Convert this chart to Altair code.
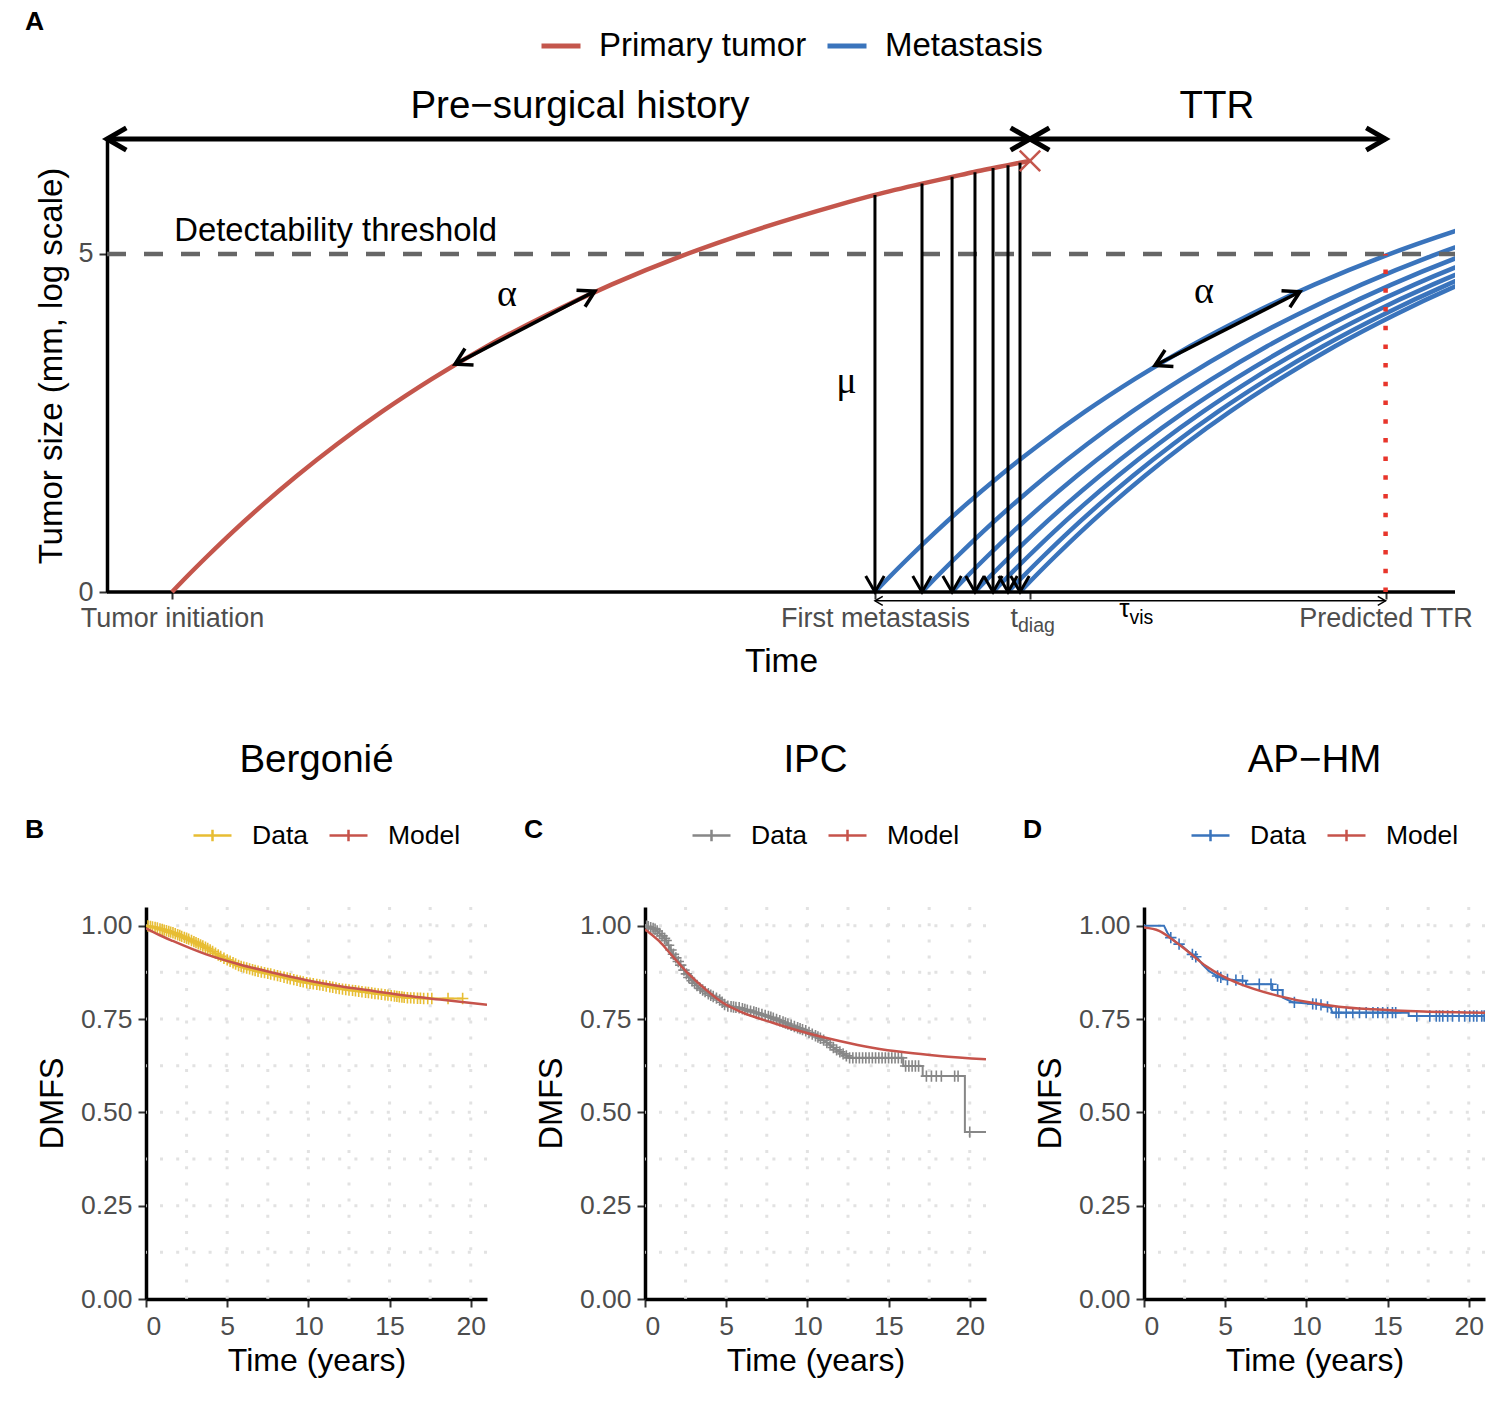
import math
import altair as alt
import numpy as np
import pandas as pd

FONT = "Liberation Sans"
SERIF = "Liberation Serif"
LABEL_GRAY = "#4D4D4D"
PRIMARY_RED = "#C4564C"
MET_BLUE = "#3A74BC"
TTR_RED = "#E8352B"
THRESH_GRAY = "#666666"
GRID_GRAY = "#E2E2E2"
MODEL_RED = "#C6534B"

# ---------------- Panel A (schematic) data ----------------
growth_age = [0.0, 1.11, 2.60, 4.45, 6.68, 9.27, 12.24, 15.58, 19.29, 23.37, 27.82,
              32.64, 37.83, 43.40, 49.33, 52.15, 55.64, 57.86, 59.50, 60.76, 62.02,
              62.91, 63.65]
growth_size = [0.0, 0.229, 0.525, 0.879, 1.281, 1.720, 2.186, 2.667, 3.152, 3.635,
               4.102, 4.550, 4.972, 5.361, 5.719, 5.873, 6.040, 6.139, 6.213, 6.263,
               6.314, 6.349, 6.377]
primary_onset = 4.82
met_onsets = [56.97, 60.46, 62.69, 64.39, 65.73, 66.84, 67.73]
met_arrow_tops = [5.87, 6.04, 6.14, 6.21, 6.27, 6.31, 6.35]
t_diag = 68.47
predicted_ttr = 94.85
threshold = 5.0
timeline_y = 6.70
tau_arrow_y = -0.13
alpha_primary = (25.82, 3.37, 36.20, 4.45)
alpha_met = (77.74, 3.35, 88.50, 4.44)
series_names = ["Primary tumor", "Metastasis"]

# ---------------- Panels B-D (survival) data ----------------
grid_x = [2.5, 5, 7.5, 10, 12.5, 15, 17.5, 20]
grid_y = [0.125, 0.25, 0.375, 0.5, 0.625, 0.75, 0.875, 1.0]

berg_t = [0, 0.6, 1.65, 2.68, 3.71, 4.74, 5.77, 6.8, 7.83, 8.86, 9.9, 10.92,
          11.95, 12.99, 14.0, 15.05, 16.08, 17.1, 19.5]
berg_s = [1.0, 0.995, 0.981, 0.963, 0.941, 0.914, 0.892, 0.879, 0.869, 0.858,
          0.847, 0.840, 0.831, 0.825, 0.819, 0.813, 0.807, 0.805, 0.805]
berg_censor = [0.12, 0.27, 0.4, 0.56, 0.7, 0.86, 1.0, 1.12, 1.26, 1.4, 1.52, 1.66,
               1.8, 1.95, 2.08, 2.2, 2.36, 2.5, 2.63, 2.8, 2.95, 3.08, 3.22, 3.36,
               3.5, 3.66, 3.8, 3.95, 4.1, 4.28, 4.45, 4.6, 4.8, 5.0, 5.18, 5.36,
               5.52, 5.7, 5.86, 6.02, 6.2, 6.38, 6.56, 6.72, 6.9, 7.1, 7.3, 7.5,
               7.68, 7.9, 8.1, 8.28, 8.5, 8.7, 8.88, 9.1, 9.3, 9.5, 9.68, 9.9,
               10.1, 10.3, 10.52, 10.7, 10.9, 11.1, 11.32, 11.5, 11.7, 11.9, 12.1,
               12.3, 12.5, 12.72, 12.9, 13.1, 13.3, 13.52, 13.7, 13.9, 14.1, 14.3,
               14.5, 14.72, 14.9, 15.1, 15.3, 15.45, 15.6, 15.76, 15.9, 16.1, 16.3,
               16.5, 16.72, 16.9, 17.1, 17.35, 17.6, 18.6, 19.5]
berg_model_t = [0, 0.82, 1.65, 3.71, 5.77, 7.83, 9.9, 11.95, 14.0, 16.08, 18.1, 21.0]
berg_model_s = [0.993, 0.975, 0.959, 0.923, 0.896, 0.874, 0.854, 0.838, 0.825,
                0.812, 0.802, 0.788]

ipc_t = [0, 0.65, 1.27, 1.68, 2.1, 2.7, 3.33, 3.95, 4.57, 5.0, 5.8, 6.83, 7.86,
         8.89, 9.92, 10.95, 11.77, 12.6, 15.9, 15.9, 17.1, 17.1, 19.7, 19.7, 21.0]
ipc_s = [1.0, 0.99, 0.963, 0.928, 0.901, 0.861, 0.834, 0.816, 0.802, 0.785, 0.780,
         0.767, 0.753, 0.735, 0.718, 0.695, 0.668, 0.646, 0.646, 0.624, 0.624,
         0.597, 0.597, 0.447, 0.447]
ipc_censor = [0.1, 0.2, 0.35, 0.5, 0.62, 0.75, 0.9, 1.05, 1.2, 1.3, 1.45, 1.6, 1.75,
              1.9, 2.05, 2.2, 2.4, 2.55, 2.7, 2.9, 3.05, 3.2, 3.4, 3.55, 3.7, 3.9,
              4.05, 4.2, 4.4, 4.6, 4.75, 4.9, 5.1, 5.3, 5.45, 5.6, 5.8, 6.0, 6.15,
              6.3, 6.5, 6.7, 6.85, 7.0, 7.2, 7.4, 7.6, 7.75, 7.9, 8.1, 8.3, 8.5,
              8.65, 8.8, 9.0, 9.2, 9.4, 9.55, 9.7, 9.9, 10.1, 10.3, 10.5, 10.65,
              10.8, 11.0, 11.2, 11.4, 11.6, 11.8, 12.0, 12.2, 12.4, 12.6, 12.8,
              13.0, 13.2, 13.4, 13.6, 13.8, 14.0, 14.2, 14.4, 14.6, 14.8, 15.0,
              15.2, 15.4, 15.6, 15.8, 16.05, 16.25, 16.45, 16.65, 16.85, 17.33,
              17.64, 17.94, 18.25, 19.07, 19.28, 20.0]
ipc_model_t = [0, 0.86, 1.68, 2.7, 3.74, 4.77, 5.8, 7.86, 9.92, 11.98, 14.0, 16.1,
               18.15, 21.0]
ipc_model_s = [0.99, 0.959, 0.919, 0.870, 0.829, 0.794, 0.771, 0.740, 0.713, 0.691,
               0.673, 0.660, 0.651, 0.642]

aphm_t = [0, 1.23, 1.44, 1.65, 1.96, 2.37, 2.78, 3.29, 3.6, 4.01, 4.53, 5.04, 6.28,
          6.28, 7.9, 7.9, 8.54, 8.54, 9.16, 10.8, 11.5, 11.6, 16.3, 16.3, 21.0]
aphm_s = [1.0, 1.0, 0.981, 0.968, 0.956, 0.945, 0.929, 0.914, 0.896, 0.878, 0.865,
          0.856, 0.852, 0.843, 0.843, 0.828, 0.828, 0.807, 0.795, 0.789, 0.780,
          0.767, 0.767, 0.758, 0.758]
aphm_censor = [1.65, 2.16, 2.98, 3.19, 4.53, 4.73, 5.14, 5.66, 6.07, 7.1, 7.82, 8.23,
               9.26, 10.39, 10.6, 10.9, 11.3, 11.83, 12.0, 12.45, 12.86, 13.27,
               13.68, 14.1, 14.4, 14.7, 15.0, 15.3, 15.5, 16.8, 17.6, 18.0, 18.2,
               18.4, 18.7, 19.0, 19.4, 19.75, 20.06, 20.3, 20.5, 20.8, 20.95]
aphm_model_t = [0, 0.93, 1.75, 2.78, 3.81, 4.84, 5.86, 7.92, 9.98, 12.0, 14.1, 17.2, 21.0]
aphm_model_s = [0.995, 0.986, 0.963, 0.928, 0.892, 0.865, 0.845, 0.816, 0.796,
                0.783, 0.776, 0.770, 0.767]

# ---------------- Panel A chart ----------------
# The concatenated layout aligns the view origin of panel A with that of panel B,
# so panel A's view starts AXIS_SHIFT px right of its y axis (drawn with an offset).
X_MAX, Y_MAX = 100.0, 6.7
XPX = 13.48
AXIS_SHIFT = 39
TOP_W = int(round(X_MAX * XPX)) - AXIS_SHIFT
TOP_H = 453
YPX = TOP_H / Y_MAX
X_LO = AXIS_SHIFT / XPX

xs_top = alt.Scale(domain=[X_LO, X_MAX], nice=False, zero=False)
ys_top = alt.Scale(domain=[0, Y_MAX], nice=False, zero=False)
x_ticks = [primary_onset, met_onsets[0], t_diag, predicted_ttr]
label_expr = (
    f"datum.value < {(x_ticks[0] + x_ticks[1]) / 2} ? 'Tumor initiation' : "
    f"datum.value < {(x_ticks[1] + x_ticks[2]) / 2} ? 'First metastasis' : "
    f"datum.value < {(x_ticks[2] + x_ticks[3]) / 2} ? '' : 'Predicted TTR'"
)
ax_top_x = alt.Axis(values=x_ticks, labelExpr=label_expr, title="Time", domain=False,
                    labelFlush=False, labelOverlap=False, labelPadding=6,
                    labelFontSize=27, titleFontSize=33.5, titlePadding=14, tickSize=7,
                    titleX=(X_MAX / 2 - X_LO) * XPX)
ax_top_y = alt.Axis(values=[0, 5], format="d", title="Tumor size (mm, log scale)",
                    labelFontSize=27, titleFontSize=33, labelPadding=6,
                    titlePadding=9, tickSize=8, offset=AXIS_SHIFT)


def XT(f):
    return alt.X(f, type="quantitative", scale=xs_top, axis=ax_top_x)


def YT(f):
    return alt.Y(f, type="quantitative", scale=ys_top, axis=ax_top_y)


def screen_angle(x0, y0, x1, y1):
    return math.degrees(math.atan2(-(y1 - y0) * YPX, (x1 - x0) * XPX)) % 360


CHEVRON = "M-0.866,-0.5L0,0L-0.866,0.5"


def heads(hx, hy, angs, size, sw):
    df = pd.DataFrame({"x": hx, "y": hy, "ang": angs})
    return alt.Chart(df).mark_point(
        shape=CHEVRON, filled=False, size=size, strokeWidth=sw, color="black",
        opacity=1, strokeJoin="miter", strokeCap="butt", clip=False
    ).encode(x=XT("x"), y=YT("y"), angle=alt.Angle("ang:Q", scale=None))


def segments(rows, sw, color="black", dash=None):
    df = pd.DataFrame(rows, columns=["x", "y", "x2", "y2"])
    kw = dict(color=color, strokeWidth=sw, clip=False)
    if dash:
        kw["strokeDash"] = dash
    return alt.Chart(df).mark_rule(**kw).encode(
        x=XT("x"), y=YT("y"), x2="x2:Q", y2="y2:Q")


top_color = alt.Color(
    "series:N",
    scale=alt.Scale(domain=series_names, range=[PRIMARY_RED, MET_BLUE]),
    legend=alt.Legend(title=None, orient="none", legendX=393, legendY=-115,
                      direction="horizontal", symbolType="stroke", symbolSize=1521,
                      symbolStrokeWidth=5, labelFontSize=33, labelFont=FONT,
                      labelColor="black", labelOffset=16, columnPadding=10,
                      labelLimit=400),
)

primary_df = pd.DataFrame({
    "x": [primary_onset + a for a in growth_age],
    "y": growth_size,
    "series": series_names[0],
})
met_rows = []
for i, onset in enumerate(met_onsets):
    for a, s in zip(growth_age, growth_size):
        met_rows.append({"x": onset + a, "y": s, "id": i, "series": series_names[1]})
met_df = pd.DataFrame(met_rows)

x_axis_line = segments([(0.0, 0.0, X_MAX, 0.0)], 3.5)
thresh_layer = segments([(0.0, threshold, X_MAX, threshold)], 4.5, THRESH_GRAY, [19, 18])
ttr_layer = segments([(predicted_ttr, 0.0, predicted_ttr, threshold)], 4.5, TTR_RED, [4.5, 14.2])

met_layer = alt.Chart(met_df).mark_line(strokeWidth=4.5, clip=True, interpolate="monotone").encode(
    x=XT("x"), y=YT("y"), detail="id:N", color=top_color)

primary_layer = alt.Chart(primary_df).mark_line(strokeWidth=4.5, interpolate="monotone").encode(
    x=XT("x"), y=YT("y"), color=top_color)

vert_arrows = segments([(o, t, o, 0.0) for o, t in zip(met_onsets, met_arrow_tops)], 3)
vert_heads = heads(met_onsets, [0.0] * len(met_onsets), [90.0] * len(met_onsets), 1369, 3)

alpha_rows = [alpha_primary, alpha_met]
alpha_lines = segments(alpha_rows, 3.5)
ah_x, ah_y, ah_a = [], [], []
for (x0, y0, x1, y1) in alpha_rows:
    ang = screen_angle(x0, y0, x1, y1)
    ah_x += [x1, x0]
    ah_y += [y1, y0]
    ah_a += [ang, (ang + 180) % 360]
alpha_heads = heads(ah_x, ah_y, ah_a, 1369, 3.5)

timeline = segments([(0.0, timeline_y, t_diag, timeline_y),
                     (t_diag, timeline_y, predicted_ttr, timeline_y)], 5)
timeline_heads = heads([0.0, t_diag, t_diag, predicted_ttr], [timeline_y] * 4,
                       [180, 0, 180, 0], 1990, 5)

tau_line = segments([(met_onsets[0], tau_arrow_y, predicted_ttr, tau_arrow_y)], 1.5)
tau_heads = heads([met_onsets[0], predicted_ttr], [tau_arrow_y] * 2, [180, 0], 324, 1.5)

diag_x = primary_df["x"].iloc[-1]
diag_y = primary_df["y"].iloc[-1]
cross_layer = alt.Chart(pd.DataFrame({"x": [diag_x], "y": [diag_y]})).mark_point(
    shape="M-1,-1L1,1M-1,1L1,-1", filled=False, size=420, strokeWidth=2.5,
    color=PRIMARY_RED, opacity=1
).encode(x=XT("x"), y=YT("y"))


def texts(rows, **kw):
    df = pd.DataFrame(rows, columns=["x", "y", "label"])
    return alt.Chart(df).mark_text(**kw).encode(x=XT("x"), y=YT("y"), text="label:N")


header_text = texts([(35.09, 7.007, "Pre\u2212surgical history"), (82.34, 7.007, "TTR")],
                    font=FONT, fontSize=38.5, align="center", baseline="alphabetic", color="black")
thresh_text = texts([(4.99, 5.19, "Detectability threshold")],
                    font=FONT, fontSize=32.8, align="left", baseline="alphabetic", color="black")
greek_text = texts([(29.67, 4.23, "\u03b1"), (81.38, 4.275, "\u03b1"), (54.85, 2.94, "\u03bc")],
                   font=SERIF, fontSize=38, align="center", baseline="alphabetic", color="black")
t_text = texts([(67.58, -0.518, "t")], font=FONT, fontSize=27, align="right",
               baseline="alphabetic", color=LABEL_GRAY)
diag_text = texts([(67.58, -0.592, "diag")], font=FONT, fontSize=19.5, align="left",
                  baseline="alphabetic", color=LABEL_GRAY)
tau_text = texts([(75.85, -0.37, "\u03c4")], font=FONT, fontSize=26, align="right",
                 baseline="alphabetic", color="black")
vis_text = texts([(75.85, -0.473, "vis")], font=FONT, fontSize=19.5, align="left",
                 baseline="alphabetic", color="black")
letter_a = alt.Chart(pd.DataFrame({"lab": ["A"]})).mark_text(
    font=FONT, fontSize=26.5, fontWeight="bold", align="left", baseline="alphabetic", color="black"
).encode(x=alt.value(-121), y=alt.value(-109), text="lab:N")

top = alt.layer(
    met_layer, x_axis_line, thresh_layer, ttr_layer, primary_layer, vert_arrows, vert_heads,
    alpha_lines, alpha_heads, timeline, timeline_heads, tau_line, tau_heads,
    cross_layer, header_text, thresh_text, greek_text, t_text, diag_text,
    tau_text, vis_text, letter_a
).properties(width=TOP_W, height=TOP_H)

# ---------------- Panels B-D ----------------
KM_SYMBOL = "M-1,0L1,0M0,-0.3L0,0.3"
PLUS = "M0,-1L0,1M-1,0L1,0"
P_W, P_H = 341, 392


def km_panel(letter, title, fld, d_t, d_s, cens, m_t, m_s, color):
    xs = alt.Scale(domain=[0, 21], nice=False, zero=False)
    ys = alt.Scale(domain=[0, 1.05], nice=False, zero=False)
    ax_x = alt.Axis(values=[0, 5, 10, 15, 20], title="Time (years)", labelPadding=6,
                    titlePadding=6, tickSize=8)
    ax_y = alt.Axis(values=[0, 0.25, 0.5, 0.75, 1.0], format=".2f", title="DMFS",
                    labelPadding=6, titlePadding=11, titleFontSize=32.5, tickSize=8)
    leg = alt.Legend(title=None, orient="none", legendX=46, legendY=-92,
                     direction="horizontal", symbolType=KM_SYMBOL, symbolSize=1444,
                     symbolStrokeWidth=2.5, labelFontSize=26.5, labelFont=FONT,
                     labelColor="black", labelOffset=19, columnPadding=16, labelLimit=300)
    col = alt.Color(f"{fld}:N", scale=alt.Scale(domain=["Data", "Model"], range=[color, MODEL_RED]),
                    legend=leg)

    def X(f):
        return alt.X(f, type="quantitative", scale=xs, axis=ax_x)

    def Y(f):
        return alt.Y(f, type="quantitative", scale=ys, axis=ax_y)

    gx = alt.Chart(pd.DataFrame({"gx": grid_x})).mark_rule(
        color=GRID_GRAY, strokeWidth=3, strokeDash=[3, 13.2]).encode(x=X("gx"))
    gy = alt.Chart(pd.DataFrame({"gy": grid_y})).mark_rule(
        color=GRID_GRAY, strokeWidth=3, strokeDash=[3, 13.2]).encode(y=Y("gy"))
    ddf = pd.DataFrame({"t": d_t, "s": d_s, fld: "Data", "o": range(len(d_t))})
    data_line = alt.Chart(ddf).mark_line(strokeWidth=2, clip=True).encode(
        x=X("t"), y=Y("s"), color=col, order="o:Q")
    cdf = pd.DataFrame({"t": cens, "s": np.interp(cens, d_t, d_s), fld: "Data"})
    cens_pts = alt.Chart(cdf).mark_point(
        shape=PLUS, filled=False, size=130, strokeWidth=1.6, opacity=1, clip=True
    ).encode(x=X("t"), y=Y("s"), color=col)
    mdf = pd.DataFrame({"t": m_t, "s": m_s, fld: "Model", "o": range(len(m_t))})
    model_line = alt.Chart(mdf).mark_line(strokeWidth=2.5, clip=True, interpolate="monotone").encode(
        x=X("t"), y=Y("s"), color=col, order="o:Q")
    lab = alt.Chart(pd.DataFrame({"lab": [letter]})).mark_text(
        font=FONT, fontSize=26.5, fontWeight="bold", align="left", baseline="alphabetic",
        color="black").encode(x=alt.value(-121), y=alt.value(-69), text="lab:N")
    return alt.layer(gx, gy, data_line, cens_pts, model_line, lab).properties(
        width=P_W, height=P_H,
        title=alt.TitleParams(title, font=FONT, fontSize=38.5, fontWeight="normal",
                              color="black", frame="group", anchor="middle", offset=35),
    )


panel_b = km_panel("B", "Bergoni\u00e9", "kb", berg_t, berg_s, berg_censor,
                   berg_model_t, berg_model_s, "#E7BD33")
panel_c = km_panel("C", "IPC", "kc", ipc_t, ipc_s, ipc_censor,
                   ipc_model_t, ipc_model_s, "#878787")
panel_d = km_panel("D", "AP\u2212HM", "kd", aphm_t, aphm_s, aphm_censor,
                   aphm_model_t, aphm_model_s, MET_BLUE)

bottom = alt.hconcat(panel_b, panel_c, panel_d, spacing=35).resolve_scale(
    color="independent", x="independent", y="independent").resolve_legend(color="independent")

chart = alt.vconcat(top, bottom, spacing=62).resolve_scale(
    color="independent", x="independent", y="independent"
).resolve_legend(color="independent").properties(
    padding={"left": 25, "top": 9, "right": 5, "bottom": 5}, background="white"
).configure_axis(
    labelFont=FONT, titleFont=FONT, labelFontSize=26.5, labelColor=LABEL_GRAY,
    titleFontSize=32, titleFontWeight="normal", titleColor="black",
    domainColor="black", domainWidth=3.5, tickColor="#333333", tickWidth=2,
    grid=False, labelLimit=400
).configure_view(strokeWidth=0)

chart.save("out.html", embed_options={"renderer": "svg", "actions": False})
